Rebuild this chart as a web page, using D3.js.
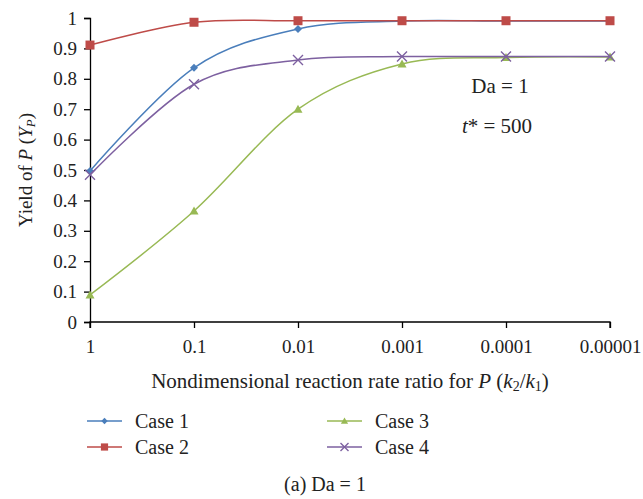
<!DOCTYPE html>
<html><head><meta charset="utf-8">
<script src="https://cdn.jsdelivr.net/npm/d3@7/dist/d3.min.js"></script>
<style>body{margin:0;background:#fff}svg{display:block}text{font-family:"Liberation Serif","DejaVu Serif",serif;fill:#222}</style>
</head><body><svg id="c" width="643" height="499"></svg>
<script>
const categories = ["1","0.1","0.01","0.001","0.0001","0.00001"];
const case1 = [0.497, 0.836, 0.964, 0.99, 0.99, 0.99];
const case2 = [0.911, 0.986, 0.991, 0.991, 0.991, 0.991];
const case3 = [0.089, 0.365, 0.70, 0.849, 0.870, 0.872];
const case4 = [0.484, 0.782, 0.862, 0.873, 0.873, 0.873];
const yTicks = [0,0.1,0.2,0.3,0.4,0.5,0.6,0.7,0.8,0.9,1];
const seriesNames = ["Case 1","Case 2","Case 3","Case 4"];
const colors = ["#4a7ebb","#be4b48","#98b954","#7d60a0"];
const markers = ["diamond","square","triangle","cross"];

const svg = d3.select("#c");
const x = d3.scalePoint().domain(categories).range([90, 610]);
const y = d3.scaleLinear().domain([0,1]).range([322, 18]);

// axes
const gy = svg.append("g").attr("transform","translate(90,0)")
  .call(d3.axisLeft(y).tickValues(yTicks).tickFormat(d=>String(d)).tickSize(6).tickPadding(7));
const gx = svg.append("g").attr("transform","translate(0,322)")
  .call(d3.axisBottom(x).tickSize(6).tickPadding(12));
[gy,gx].forEach(g=>{
  g.select(".domain").attr("stroke","#000").attr("stroke-width",1.3);
  g.selectAll(".tick line").attr("stroke","#000").attr("stroke-width",1.3);
  g.selectAll(".tick text").style("font-size","19px").attr("fill","#222").style("font-family","Liberation Serif, serif");
});
gx.select(".domain").attr("d","M90,6V0H610V6");

const series = [case1,case2,case3,case4];
const line = d3.line().x((d,i)=>x(categories[i])).y(d=>y(d)).curve(d3.curveCatmullRom.alpha(0));

function drawMarker(g, type, cx, cy, color, s){
  s = s||1;
  if(type==="diamond"){
    g.append("path").attr("d",`M${cx},${cy-4*s}L${cx+4*s},${cy}L${cx},${cy+4*s}L${cx-4*s},${cy}Z`).attr("fill",color);
  } else if(type==="square"){
    g.append("rect").attr("x",cx-4.5*s).attr("y",cy-4.5*s).attr("width",9*s).attr("height",9*s).attr("fill",color);
  } else if(type==="triangle"){
    g.append("path").attr("d",`M${cx},${cy-4.5*s}L${cx+4.5*s},${cy+3.5*s}L${cx-4.5*s},${cy+3.5*s}Z`).attr("fill",color);
  } else {
    g.append("path").attr("d",`M${cx-5*s},${cy-5*s}L${cx+5*s},${cy+5*s}M${cx+5*s},${cy-5*s}L${cx-5*s},${cy+5*s}`).attr("stroke",color).attr("stroke-width",1.4).attr("fill","none");
  }
}

series.forEach((vals,k)=>{
  const g = svg.append("g");
  g.append("path").attr("d",line(vals)).attr("fill","none").attr("stroke",colors[k]).attr("stroke-width",1.5);
  vals.forEach((v,i)=>drawMarker(g, markers[k], x(categories[i]), y(v), colors[k]));
});

// annotations
svg.append("text").attr("x",500).attr("y",93).attr("text-anchor","middle").style("font-size","21px").text("Da = 1");
const t2 = svg.append("text").attr("x",497).attr("y",133).attr("text-anchor","middle").style("font-size","21px");
t2.append("tspan").style("font-style","italic").text("t");
t2.append("tspan").text("* = 500");

// y label
const yl = svg.append("text").attr("transform","translate(32,170) rotate(-90)").attr("text-anchor","middle").style("font-size","19px");
yl.append("tspan").text("Yield of ");
yl.append("tspan").style("font-style","italic").text("P");
yl.append("tspan").text(" (");
yl.append("tspan").style("font-style","italic").text("Y");
yl.append("tspan").style("font-style","italic").style("font-size","13px").attr("dy",3).text("P");
yl.append("tspan").attr("dy",-3).text(")");

// x label
const xl = svg.append("text").attr("x",350).attr("y",388).attr("text-anchor","middle").style("font-size","21px");
xl.append("tspan").text("Nondimensional reaction rate ratio for ");
xl.append("tspan").style("font-style","italic").text("P");
xl.append("tspan").text(" (");
xl.append("tspan").style("font-style","italic").text("k");
xl.append("tspan").style("font-size","14px").attr("dy",3).text("2");
xl.append("tspan").attr("dy",-3).text("/");
xl.append("tspan").style("font-style","italic").text("k");
xl.append("tspan").style("font-size","14px").attr("dy",3).text("1");
xl.append("tspan").attr("dy",-3).text(")");

// legend
const legPos = [[87,421],[87,447],[327,421],[327,447]];
seriesNames.forEach((n,k)=>{
  const [lx,ly] = legPos[k];
  const g = svg.append("g");
  g.append("line").attr("x1",lx).attr("x2",lx+35).attr("y1",ly).attr("y2",ly).attr("stroke",colors[k]).attr("stroke-width",1.5);
  drawMarker(g, markers[k], lx+17.5, ly, colors[k], 0.8);
  g.append("text").attr("x",lx+48).attr("y",ly+7).style("font-size","20px").text(n);
});

svg.append("text").attr("x",325).attr("y",491).attr("text-anchor","middle").style("font-size","20px").text("(a)  Da = 1");
</script></body></html>
